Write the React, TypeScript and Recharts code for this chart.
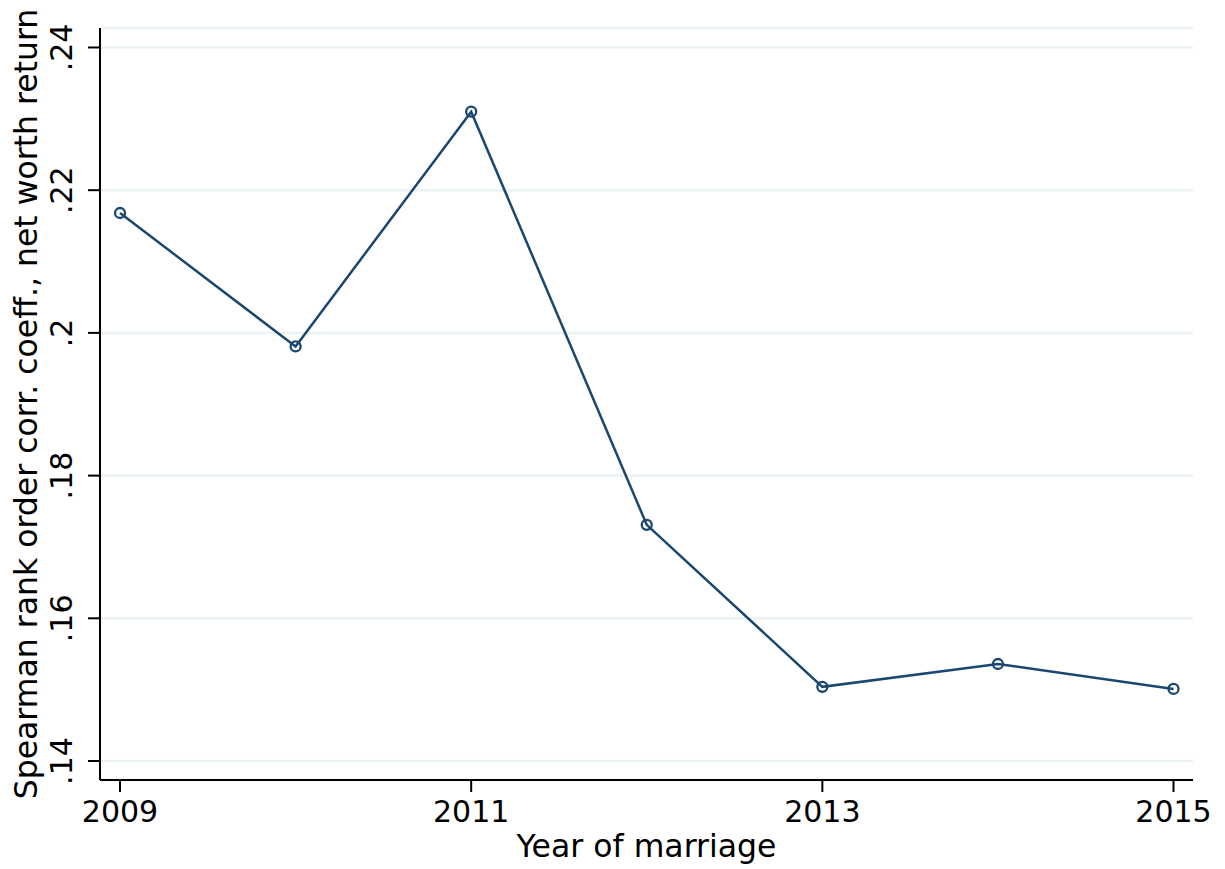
import React from "react";
import { LineChart, Line, XAxis, YAxis, CartesianGrid, Label } from "recharts";

const years = [2009, 2010, 2011, 2012, 2013, 2014, 2015];
const coeffs = [0.2168, 0.1981, 0.231, 0.1731, 0.1504, 0.1536, 0.1501];
const xTicks = [2009, 2011, 2013, 2015];
const yTicks = [0.14, 0.16, 0.18, 0.2, 0.22, 0.24];
const xTitle = "Year of marriage";
const yTitle = "Spearman rank order corr. coeff., net worth return";

const data = years.map((y, i) => ({ year: y, value: coeffs[i] }));

const FONT = "DejaVu Sans, sans-serif";
const COLOR = "#1a476f";

const fmt = (v: number) => String(Number(v.toFixed(2))).replace(/^0/, "");

const YTick = (props: any) => {
  const { y, payload } = props;
  const x = 72;
  return (
    <text
      x={x}
      y={y}
      transform={`rotate(-90 ${x} ${y})`}
      textAnchor="middle"
      fontFamily={FONT}
      fontSize={30}
      fill="#000"
    >
      {fmt(payload.value)}
    </text>
  );
};

const XTick = (props: any) => {
  const { x, y, payload } = props;
  return (
    <text x={x} y={y + 30} textAnchor="middle" fontFamily={FONT} fontSize={30} fill="#000">
      {payload.value}
    </text>
  );
};

export default function App() {
  return (
    <div style={{ position: "absolute", left: 0, top: 0, background: "#fff" }}>
      <LineChart
        width={1225}
        height={869}
        data={data}
        margin={{ top: 28, right: 32, bottom: 29, left: 40 }}
      >
        <CartesianGrid
          horizontal={true}
          vertical={false}
          stroke="#eaf2f3"
          strokeWidth={2.5}
        />
        <XAxis
          dataKey="year"
          type="number"
          domain={[2008.886, 2015.111]}
          ticks={xTicks}
          allowDataOverflow
          height={60}
          tickSize={12}
          tickMargin={0}
          stroke="#000"
          strokeWidth={2}
          tick={<XTick />}
        >
          <Label
            content={(p: any) => {
              const vb = p.viewBox;
              return (
                <text
                  x={vb.x + vb.width / 2}
                  y={vb.y + 77}
                  textAnchor="middle"
                  fontFamily={FONT}
                  fontSize={31.5}
                  fill="#000"
                >
                  {xTitle}
                </text>
              );
            }}
          />
        </XAxis>
        <YAxis
          type="number"
          domain={[0.13734, 0.24273]}
          ticks={yTicks}
          allowDataOverflow
          width={60}
          tickSize={12}
          stroke="#000"
          strokeWidth={2}
          tick={<YTick />}
        >
          <Label
            content={(p: any) => {
              const vb = p.viewBox;
              const cx = 37;
              const cy = vb.y + vb.height / 2;
              return (
                <text
                  x={cx}
                  y={cy}
                  transform={`rotate(-90 ${cx} ${cy})`}
                  textAnchor="middle"
                  fontFamily={FONT}
                  fontSize={31.5}
                  fill="#000"
                >
                  {yTitle}
                </text>
              );
            }}
          />
        </YAxis>
        <Line
          type="linear"
          dataKey="value"
          stroke={COLOR}
          strokeWidth={2.5}
          dot={{ r: 5, stroke: COLOR, strokeWidth: 2.3, fill: "none" }}
          activeDot={false}
          isAnimationActive={false}
        />
      </LineChart>
    </div>
  );
}
